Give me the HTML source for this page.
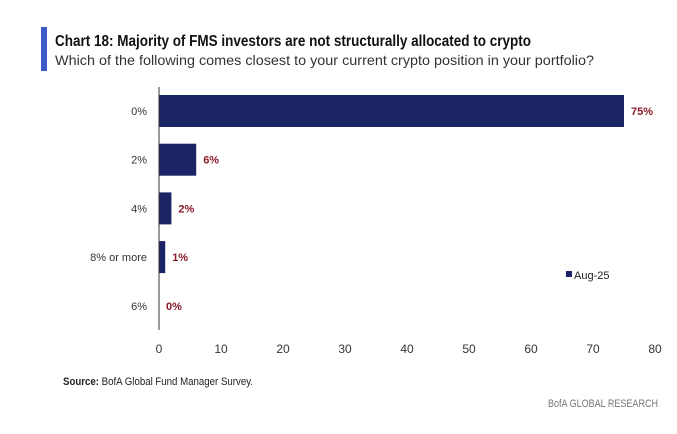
<!DOCTYPE html>
<html><head><meta charset="utf-8"><style>
body{margin:0;background:#fff;}
svg{display:block;font-family:"Liberation Sans",sans-serif;}
</style></head><body>
<svg width="677" height="434" viewBox="0 0 677 434" id="chart">
<rect x="41" y="27" width="6" height="44" fill="#3a5bc7"/>
<text x="55" y="46" font-size="16" font-weight="bold" fill="#111" textLength="476" lengthAdjust="spacingAndGlyphs">Chart 18: Majority of FMS investors are not structurally allocated to crypto</text>
<text x="55" y="65" font-size="14" fill="#333" textLength="539" lengthAdjust="spacingAndGlyphs">Which of the following comes closest to your current crypto position in your portfolio?</text>
<g id="plot"></g>
<rect x="566" y="271" width="6" height="6" fill="#1b2565"/>
<text x="574" y="279" font-size="11" fill="#222">Aug-25</text>
<text x="63" y="385" font-size="11" fill="#222" textLength="190" lengthAdjust="spacingAndGlyphs"><tspan font-weight="bold">Source:</tspan> BofA Global Fund Manager Survey.</text>
<text x="658" y="407" font-size="11" fill="#777" text-anchor="end" textLength="110" lengthAdjust="spacingAndGlyphs">BofA GLOBAL RESEARCH</text>
</svg>
<script>
const categories=["0%","2%","4%","8% or more","6%"];
const values=[75,6,2,1,0];
const valueLabels=["75%","6%","2%","1%","0%"];
const ticks=[0,10,20,30,40,50,60,70,80];
const NS="http://www.w3.org/2000/svg";
const g=document.getElementById("plot");
const x0=159,x1=655,xmax=80;
const xs=v=>x0+(x1-x0)*v/xmax;
const yTop=87,step=48.7,bh=32;
const yc=i=>yTop+24+i*step;
function mk(t,a){const e=document.createElementNS(NS,t);for(const k in a)e.setAttribute(k,a[k]);g.appendChild(e);return e;}
categories.forEach((c,i)=>{
 const b=mk("rect",{x:xs(0),y:yc(i)-bh/2,width:xs(values[i])-xs(0),height:bh,fill:"#1b2565"});
 
 
 const l=mk("text",{x:147,y:yc(i)+4,"font-size":11,fill:"#333","text-anchor":"end"});l.textContent=c;
 
 
 const v=mk("text",{x:xs(values[i])+7,y:yc(i)+4,"font-size":11,"font-weight":"bold",fill:"#8b1a2b"});v.textContent=valueLabels[i];
 
 
});
const ax=mk("line",{x1:x0,x2:x0,y1:yTop,y2:330,stroke:"#333","stroke-width":1});


ticks.forEach(t=>{
 const e=mk("text",{x:xs(t),y:353,"font-size":12,fill:"#333","text-anchor":"middle"});e.textContent=t;
 
 
});
</script>
</body></html>
